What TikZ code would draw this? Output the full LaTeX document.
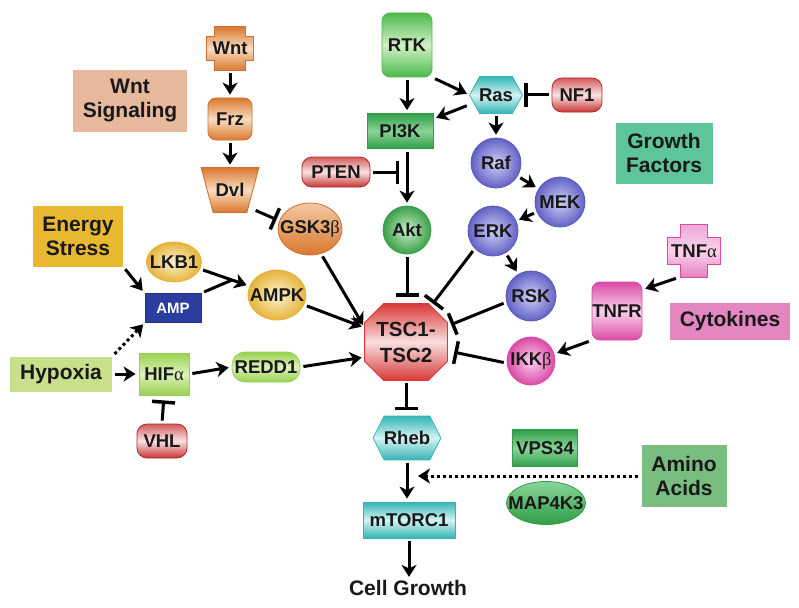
\documentclass[tikz,border=0pt]{standalone}
\usepackage{fontspec}
\setmainfont{Liberation Sans}
\newfontfamily\grk{Liberation Serif}
\usetikzlibrary{arrows.meta,backgrounds,shapes.geometric}
\definecolor{orgD}{HTML}{D9782E}
\definecolor{orgL}{HTML}{F9DCC0}
\definecolor{orgB}{HTML}{D07030}
\definecolor{redD}{HTML}{C93434}
\definecolor{redL}{HTML}{F8E2E2}
\definecolor{redB}{HTML}{B02828}
\definecolor{grnD}{HTML}{4CB84C}
\definecolor{grnL}{HTML}{D2F0C6}
\definecolor{dgrn}{HTML}{2F9E47}
\definecolor{dgrnL}{HTML}{8AD498}
\definecolor{tealD}{HTML}{35B5B5}
\definecolor{tealL}{HTML}{D5F3F3}
\definecolor{bluD}{HTML}{6262C6}
\definecolor{bluL}{HTML}{CFCFF4}
\definecolor{bluB}{HTML}{5A5AB8}
\definecolor{yelD}{HTML}{E6B43C}
\definecolor{yelL}{HTML}{FDF3D0}
\definecolor{ygD}{HTML}{98D050}
\definecolor{ygL}{HTML}{DDF2BA}
\definecolor{magD}{HTML}{DA4AA6}
\definecolor{magL}{HTML}{FAD2EC}
\definecolor{aktD}{HTML}{3AA04A}
\definecolor{aktL}{HTML}{C8EEC8}
\definecolor{wntsigC}{HTML}{E6B89C}
\definecolor{energyC}{HTML}{E8B830}
\definecolor{hypoxC}{HTML}{C8E08C}
\definecolor{growthC}{HTML}{5EC59B}
\definecolor{cytoC}{HTML}{E486BF}
\definecolor{aminoC}{HTML}{79BD7F}
\definecolor{ampC}{HTML}{2B3D9E}
\definecolor{tscD}{HTML}{D83A3A}
\definecolor{tscL}{HTML}{F9DEDE}
\newcommand\mycross[4]{\path[#4] ([xshift=#2pt]#1.north west) -- ([xshift=-#2pt]#1.north east) -- ([xshift=-#2pt,yshift=-#3pt]#1.north east) -- ([yshift=-#3pt]#1.north east) -- ([yshift=#3pt]#1.south east) -- ([xshift=-#2pt,yshift=#3pt]#1.south east) -- ([xshift=-#2pt]#1.south east) -- ([xshift=#2pt]#1.south west) -- ([xshift=#2pt,yshift=#3pt]#1.south west) -- ([yshift=#3pt]#1.south west) -- ([yshift=-#3pt]#1.north west) -- ([xshift=#2pt,yshift=-#3pt]#1.north west) -- cycle;}
\newcommand\myhex[3]{\path[#3] ([xshift=#2pt]#1.north west) -- ([xshift=-#2pt]#1.north east) -- (#1.east) -- ([xshift=-#2pt]#1.south east) -- ([xshift=#2pt]#1.south west) -- (#1.west) -- cycle;}
\newcommand\myoct[3]{\path[#3] ([xshift=#2pt]#1.north west) -- ([xshift=-#2pt]#1.north east) -- ([yshift=-#2pt]#1.north east) -- ([yshift=#2pt]#1.south east) -- ([xshift=-#2pt]#1.south east) -- ([xshift=#2pt]#1.south west) -- ([yshift=#2pt]#1.south west) -- ([yshift=-#2pt]#1.north west) -- cycle;}
\tikzset{
  nbox/.style={inner sep=0pt, font=\bfseries\fontsize{18.5}{20}\selectfont, align=center, line width=0.8pt, text=black!90},
  lbl/.style={nbox, font=\bfseries\fontsize{21}{24}\selectfont},
  orgS/.style={draw=orgB, top color=orgD, bottom color=orgD, middle color=orgL},
  redS/.style={draw=redB, top color=redD!80, bottom color=redD, middle color=redL},
  grnS/.style={draw=grnD, top color=grnD, bottom color=grnD, middle color=grnL},
  dgrnS/.style={draw=dgrn, top color=dgrn, bottom color=dgrn, middle color=dgrnL},
  tealS/.style={draw=tealD, top color=tealD, bottom color=tealD, middle color=tealL},
  ygS/.style={draw=ygD, top color=ygD, bottom color=ygD, middle color=ygL},
  magS/.style={draw=magD, top color=magD, bottom color=magD, middle color=magL},
  bluS/.style={draw=bluB, inner color=bluL, outer color=bluD},
  yelS/.style={draw=yelD, inner color=yelL, outer color=yelD},
  actarr/.style={line width=3pt, -{Stealth[length=12pt,width=15pt,inset=3.5pt]}, shorten >=3pt, shorten <=3pt},
  inharr/.style={line width=3pt, -{Bar[width=23pt,line width=3.5pt]}, shorten <=3pt},
  dotarr/.style={line width=3pt, dash pattern=on 3pt off 3pt, -{Stealth[length=12pt,width=15pt,inset=3.5pt]}, shorten >=2pt, shorten <=3pt}
}
\begin{document}
\begin{tikzpicture}[x=1pt,y=-1pt]
\useasboundingbox (0,0) rectangle (799,607);
% context labels
\node[lbl, fill=wntsigC, minimum width=114pt, minimum height=62pt] (wntsig) at (130,101) {Wnt\\Signaling};
\node[lbl, fill=energyC, minimum width=90pt, minimum height=61pt] (energy) at (78,236) {Energy\\Stress};
\node[lbl, fill=hypoxC, minimum width=102pt, minimum height=35pt] (hypoxia) at (61,374) {Hypoxia};
\node[lbl, fill=growthC, minimum width=97pt, minimum height=61pt] (growth) at (664,153) {Growth\\Factors};
\node[lbl, fill=cytoC, minimum width=120pt, minimum height=37pt] (cyto) at (730,321) {Cytokines};
\node[lbl, fill=aminoC, minimum width=85pt, minimum height=62pt] (amino) at (684,476) {Amino\\Acids};
\node[lbl] (cell) at (408,588) {Cell Growth};
% Wnt branch
\node[nbox, minimum width=46pt, minimum height=43pt] (wnt) at (230,48.5) {Wnt};
\node[nbox, orgS, rounded corners=8pt, minimum width=44pt, minimum height=42pt] (frz) at (230,119) {Frz};
\node[nbox, minimum width=45pt, minimum height=44pt] (dvl) at (230,190) {Dvl};
\node[nbox, ellipse, draw=orgB, top color=orgL!80!orgD, bottom color=orgD, minimum width=64pt, minimum height=52pt] (gsk) at (310,229) {\makebox[0pt]{GSK3{\grk\mdseries β}}};
% growth factor branch
\node[nbox, redS, rounded corners=10pt, minimum width=68pt, minimum height=30pt] (pten) at (336,172) {PTEN};
\node[nbox, grnS, rounded corners=8pt, minimum width=50pt, minimum height=64pt] (rtk) at (407,45) {RTK};
\node[nbox, dgrnS, minimum width=66pt, minimum height=35pt] (pi3k) at (400,131) {PI3K};
\node[nbox, circle, draw=aktD, inner color=aktL, outer color=aktD, minimum size=48pt] (akt) at (407,230) {Akt};
\node[nbox, minimum width=52pt, minimum height=36pt] (ras) at (496,95) {Ras};
\node[nbox, redS, rounded corners=10pt, minimum width=50pt, minimum height=34pt] (nf1) at (577,95) {NF1};
\node[nbox, circle, bluS, minimum size=50pt] (raf) at (496,163) {Raf};
\node[nbox, circle, bluS, minimum size=50pt] (mek) at (560,202) {MEK};
\node[nbox, circle, bluS, minimum size=50pt] (erk) at (493,231) {ERK};
\node[nbox, circle, bluS, minimum size=50pt] (rsk) at (531,296) {RSK};
% cytokines branch
\node[nbox, circle, draw=magD, inner color=magL, outer color=magD, minimum size=48pt] (ikk) at (531,361) {IKK{\grk\mdseries β}};
\node[nbox, minimum width=52pt, minimum height=52pt] (tnfa) at (694,251) {TNF{\grk\mdseries α}};
\node[nbox, magS, rounded corners=8pt, minimum width=50pt, minimum height=58pt] (tnfr) at (617,311) {TNFR};
% core
\node[nbox, font=\bfseries\fontsize{20.5}{26}\selectfont, minimum width=82pt, minimum height=76pt] (tsc) at (406,342) {TSC1-\\TSC2};
\node[nbox, minimum width=67pt, minimum height=43pt] (rheb) at (407,438) {Rheb};
\node[nbox, tealS, minimum width=92pt, minimum height=36pt] (mtorc) at (409,520) {mTORC1};
\node[nbox, dgrnS, minimum width=65pt, minimum height=37pt] (vps) at (545,448) {VPS34};
\node[nbox, ellipse, draw=dgrn, top color=dgrnL, bottom color=dgrn, minimum width=79pt, minimum height=43pt] (map) at (546,503) {\makebox[0pt]{MAP4K3}};
% energy / hypoxia branch
\node[nbox, ellipse, yelS, minimum width=55pt, minimum height=40pt] (lkb1) at (174,262) {\makebox[0pt]{LKB1}};
\node[nbox, fill=ampC, draw=ampC!80!black, text=white, font=\bfseries\fontsize{15}{17}\selectfont, minimum width=56pt, minimum height=29pt] (amp) at (173,308) {AMP};
\node[nbox, ellipse, yelS, minimum width=58pt, minimum height=50pt] (ampk) at (277,295) {\makebox[0pt]{AMPK}};
\node[nbox, ygS, minimum width=50pt, minimum height=42pt] (hif) at (164,374) {HIF{\grk\mdseries α}};
\node[nbox, ygS, rounded corners=13pt, minimum width=68pt, minimum height=30pt] (redd1) at (266,367) {REDD1};
\node[nbox, redS, rounded corners=10pt, minimum width=50pt, minimum height=34pt] (vhl) at (162,441) {VHL};
% shapes drawn behind their labels
\begin{scope}[on background layer]
\fill[white] (0,0) rectangle (799,607);
\mycross{wnt}{8}{10}{orgS, line width=0.8pt}
\path[orgS, line width=0.8pt] ([xshift=-6pt]dvl.north west) -- ([xshift=6pt]dvl.north east) -- ([xshift=-6pt]dvl.south east) -- ([xshift=6pt]dvl.south west) -- cycle;
\myhex{ras}{10}{tealS, line width=0.8pt}
\myhex{rheb}{11}{tealS, line width=0.8pt}
\mycross{tnfa}{13}{13}{draw=magD, top color=magL!70!magD, bottom color=magD!70, middle color=magL, line width=0.8pt}
\myoct{tsc}{19}{draw=tscD, top color=tscD, bottom color=tscD, middle color=tscL, line width=0.8pt}
\end{scope}
% connectors
\coordinate (ptenEnd) at (399,172);
\coordinate (aaEnd) at (416,476);
\coordinate (merge) at (232,280);
\draw[actarr] (wnt.south) -- (frz.north);
\draw[actarr] (frz.south) -- (dvl.north);
\draw[inharr, shorten >=3pt] (dvl.-40) -- (gsk.165);
\draw[inharr] (pten.east) -- (ptenEnd);
\draw[actarr] (rtk.south) -- (rtk.south |- pi3k.north);
\draw[actarr] (pi3k.south -| akt.north) -- (akt.north);
\draw[actarr] (rtk.south east) -- (ras.west);
\draw[actarr] (ras.200) -- (pi3k.20);
\draw[inharr, shorten >=2pt] (nf1.west) -- (ras.east);
\draw[actarr] (ras.south) -- (raf.north);
\draw[actarr] (raf) -- (mek);
\draw[actarr] (mek) -- (erk);
\draw[actarr] (erk) -- (rsk);
\draw[inharr] (erk.224) -- (tsc.55);
\draw[inharr, shorten >=4pt] (rsk.194) -- (tsc.21);
\draw[inharr, shorten >=7pt] (ikk.185) -- (tsc.-12);
\draw[actarr] (tnfa.-120) -- (tnfr.40);
\draw[actarr] (tnfr.south west) -- (ikk.17);
\draw[inharr, shorten >=7pt] (akt.south) -- (akt.south |- tsc.north);
\draw[inharr, shorten >=6pt] (tsc.south) -- (tsc.south |- rheb.north);
\draw[actarr] (rheb.south) -- (rheb.south |- mtorc.north);
\draw[actarr] (mtorc.south) -- (mtorc.south |- cell.north);
\draw[dotarr] (amino.west) -- (aaEnd);
\draw[actarr] (energy.south east) -- (amp.north west);
\draw[actarr] (lkb1.-15) -- (ampk.162);
\draw[line width=3pt, shorten <=3pt] (amp.north east) -- (merge);
\draw[actarr] (ampk.-20) -- (tsc.161);
\draw[actarr] (gsk.-66) -- (tsc.161);
\draw[actarr] (redd1.east) -- (tsc.200);
\draw[actarr] (hypoxia.east) -- (hif.west);
\draw[dotarr] (hypoxia.north east) -- (amp.south west);
\draw[actarr] (hif.east) -- (redd1.west);
\draw[inharr, shorten >=5pt] (vhl.north) -- (hif.south);
\end{tikzpicture}
\end{document}
